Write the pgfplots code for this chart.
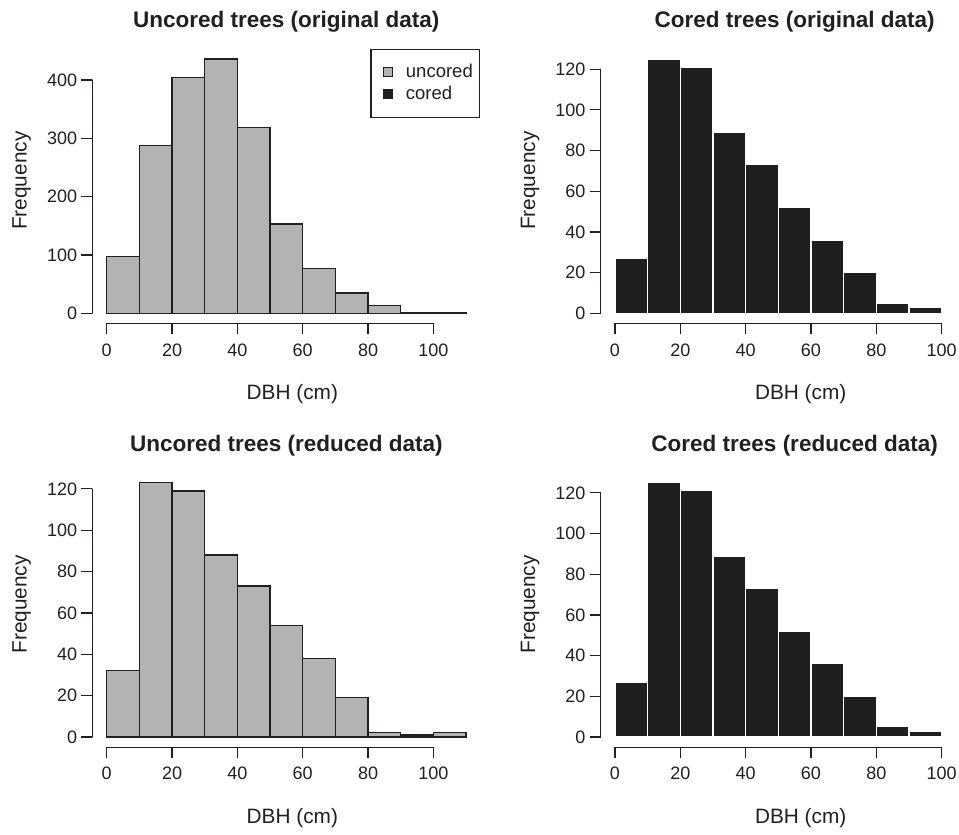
\documentclass[border=0pt]{standalone}
\usepackage{fontspec}
\setmainfont{Liberation Sans}
\usepackage{pgfplots}
\pgfplotsset{compat=1.18}
\definecolor{fg}{RGB}{35,31,32}
\definecolor{greyfill}{RGB}{179,179,179}
\definecolor{coredfill}{RGB}{31,31,31}
\newcommand{\tickfont}{\fontsize{18pt}{22pt}\selectfont}
\newcommand{\lblfont}{\fontsize{20.8pt}{25pt}\selectfont}
\newcommand{\legfont}{\fontsize{18.5pt}{22pt}\selectfont}
\newcommand{\ttlfont}{\fontsize{22.5pt}{27pt}\selectfont\bfseries}

\tikzset{axisline/.style={draw=fg, line width=1.2pt, line cap=round}}

\pgfplotsset{
  rhist/.style={
    scale only axis, width=388.1pt, height=274.7pt,
    xmin=-4.4, xmax=114.4,
    separate axis lines,
    axis x line*=bottom, axis y line*=left,
    axis line style={draw=none},
    tick align=outside,
    major tick length=11pt,
    tick style={draw=fg, line width=1.2pt},
    xtick={0,20,...,100},
    minor tick num=0,
    tick label style={font=\tickfont, text=fg, inner sep=0pt},
    yticklabel style={xshift=-4pt},
    xticklabel style={yshift=-9pt},
    /pgf/number format/assume math mode=true,
    label style={font=\lblfont, text=fg, inner sep=0pt},
    xlabel={DBH (cm)}, ylabel={Frequency},
    xlabel style={at={(axis description cs:0.5155,-0.276)}, anchor=base},
    ylabel style={at={(axis description cs:-0.169,0.52)}, anchor=base},
    title style={at={(axis description cs:0.5,1.0794)}, anchor=base, font=\ttlfont, text=fg, inner sep=0pt, yshift=-7pt},
    clip=false,
  },
  uncoredbar/.style={ybar interval, fill=greyfill, draw=fg, line width=1.2pt},
  coredbar/.style={ybar interval, fill=coredfill, draw=white, line width=1.2pt},
}

\pgfplotstableread{
x y
0 97
10 287
20 404
30 436
40 318
50 153
60 77
70 35
80 13
90 2
100 1
110 1
}\uncoredorig

\pgfplotstableread{
x y
0 27
10 125
20 121
30 89
40 73
50 52
60 36
70 20
80 5
90 3
100 3
}\coredorig

\pgfplotstableread{
x y
0 32
10 123
20 119
30 88
40 73
50 54
60 38
70 19
80 2
90 1
100 2
110 2
}\uncoredred

\pgfplotstableread{
x y
0 27
10 125
20 121
30 89
40 73
50 52
60 36
70 20
80 5
90 3
100 3
}\coredred

\begin{document}
\begin{tikzpicture}
\clip (0,0) rectangle (959pt,835pt);
\path[use as bounding box] (0,0) rectangle (959pt,835pt);
\fill[white] (0,0) rectangle (959pt,835pt);

% top-left
\begin{axis}[rhist, at={(92.3pt,511.5pt)}, anchor=south west,
  ymin=-17.44, ymax=453.44, ytick={0,100,...,400},
  title={Uncored trees (original data)},
  legend style={at={(1,1)}, anchor=north east, draw=fg, line width=1.2pt, fill=white,
    inner xsep=7pt, inner ysep=13.2pt, row sep=3.1pt, column sep=12.8pt,
    font=\legfont, text=fg, cells={anchor=west},
    nodes={inner sep=0pt, text height=14.7pt, text depth=4.5pt}},
  ]
  \addplot[uncoredbar, forget plot] table[x=x,y=y] {\uncoredorig};
  \draw[axisline] (axis cs:0,-17.44) -- (axis cs:100,-17.44);
  \draw[axisline] (axis cs:-4.4,0) -- (axis cs:-4.4,400);
  \addlegendimage{legend image code/.code={\path (0pt,0pt); \draw[fill=greyfill, draw=fg, line width=1pt] (5pt,-4.5pt) rectangle (14pt,4.5pt);}}
  \addlegendentry{uncored}
  \addlegendimage{legend image code/.code={\path (0pt,0pt); \draw[fill=coredfill, draw=coredfill, line width=1pt] (5pt,-4.5pt) rectangle (14pt,4.5pt);}}
  \addlegendentry{cored}
\end{axis}

% top-right
\begin{axis}[rhist, at={(600.6pt,511.5pt)}, anchor=south west,
  ymin=-5, ymax=130, ytick={0,20,...,120},
  title={Cored trees (original data)}]
  \addplot[coredbar] table[x=x,y=y] {\coredorig};
  \draw[axisline] (axis cs:0,-5) -- (axis cs:100,-5);
  \draw[axisline] (axis cs:-4.4,0) -- (axis cs:-4.4,120);
\end{axis}

% bottom-left
\begin{axis}[rhist, at={(92.3pt,87.8pt)}, anchor=south west,
  ymin=-4.92, ymax=127.92, ytick={0,20,...,120},
  title={Uncored trees (reduced data)}]
  \addplot[uncoredbar] table[x=x,y=y] {\uncoredred};
  \draw[axisline] (axis cs:0,-4.92) -- (axis cs:100,-4.92);
  \draw[axisline] (axis cs:-4.4,0) -- (axis cs:-4.4,120);
\end{axis}

% bottom-right
\begin{axis}[rhist, at={(600.6pt,87.8pt)}, anchor=south west,
  ymin=-5, ymax=130, ytick={0,20,...,120},
  title={Cored trees (reduced data)}]
  \addplot[coredbar] table[x=x,y=y] {\coredred};
  \draw[axisline] (axis cs:0,-5) -- (axis cs:100,-5);
  \draw[axisline] (axis cs:-4.4,0) -- (axis cs:-4.4,120);
\end{axis}
\end{tikzpicture}
\end{document}
